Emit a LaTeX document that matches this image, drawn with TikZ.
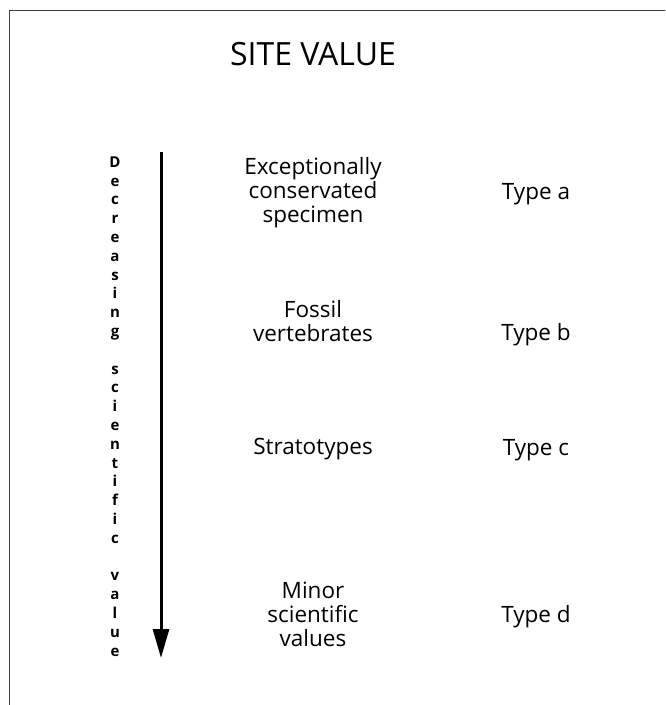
\documentclass[tikz,border=0pt]{standalone}
\usepackage{fontspec}
\setmainfont{Open Sans}
\usetikzlibrary{arrows.meta}
\begin{document}
\begin{tikzpicture}[x=1pt,y=-1pt,
  title/.style={font=\fontsize{32}{38}\selectfont, anchor=base, inner sep=0pt},
  item/.style={font=\fontsize{22.5}{24}\selectfont, anchor=base, align=center, inner sep=0pt},
  typelabel/.style={font=\fontsize{22.5}{24}\selectfont, anchor=base, inner sep=0pt},
  vert/.style={font=\bfseries\fontsize{15}{18.8}\selectfont, anchor=base, align=center, inner sep=0pt},
  frame/.style={draw=black!75, line width=1pt},
  bigarrow/.style={line width=3pt, -{Triangle[width=16pt,length=29pt]}}]
\useasboundingbox (0,0) rectangle (665,705);
\coordinate (tl) at (9,10);
\coordinate (tr) at (665,10);
\coordinate (bl) at (9,705);
\draw[frame] (tr) -- (tl) -- (bl);
\node[title] (title) at (313,65) {SITE VALUE};
\coordinate (astart) at (161,152);
\coordinate (aend) at (161,658);
\draw[bigarrow] (astart) -- (aend);
\node[vert] (axis) at (115,656) {D\\e\\c\\r\\e\\a\\s\\i\\n\\g\\[18.8pt]s\\c\\i\\e\\n\\t\\i\\f\\i\\c\\[18.8pt]v\\a\\l\\u\\e};
\node[item] (ia) at (313,222) {Exceptionally\\conservated\\specimen};
\node[item] (ib) at (313,341) {Fossil\\vertebrates};
\node[item] (ic) at (313,454) {Stratotypes};
\node[item] (id) at (313,646) {Minor\\scientific\\values};
\node[typelabel] (ta) at (536,199) {Type a};
\node[typelabel] (tb) at (536,340) {Type b};
\node[typelabel] (tc) at (536,455) {Type c};
\node[typelabel] (td) at (536,622) {Type d};
\end{tikzpicture}
\end{document}
